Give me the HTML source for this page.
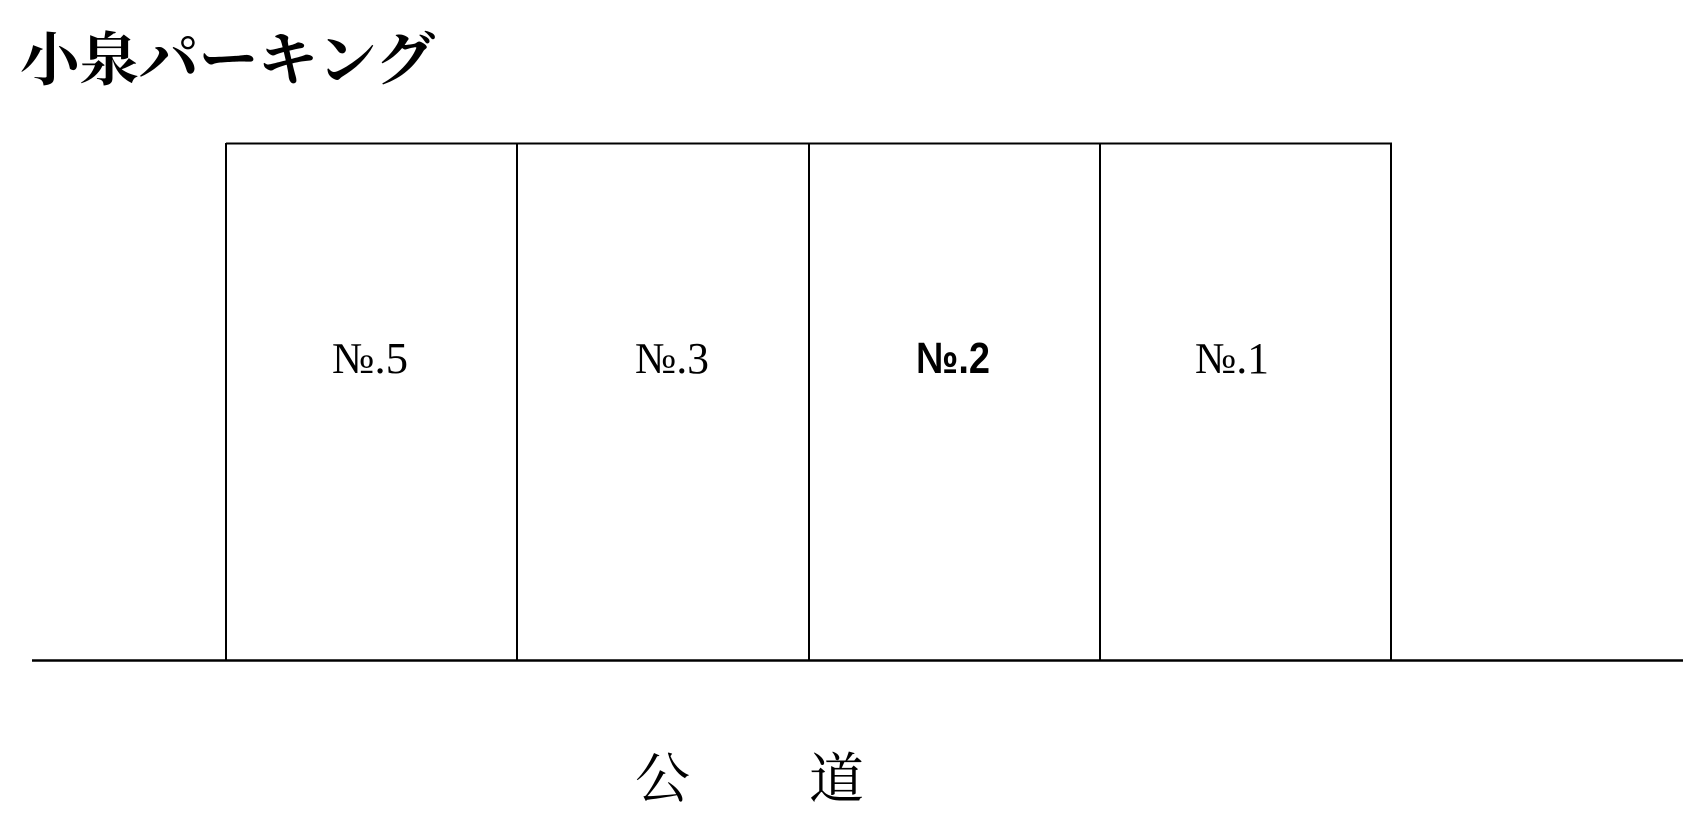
<!DOCTYPE html>
<html><head><meta charset="utf-8"><style>
html,body{margin:0;padding:0;background:#fff;}
svg{display:block}
</style></head><body>
<svg width="1703" height="839" viewBox="0 0 1703 839" xmlns="http://www.w3.org/2000/svg">
<text x="20" y="80" font-family="'Liberation Serif','Noto Serif CJK SC',serif" font-weight="bold" font-size="58" textLength="415" lengthAdjust="spacingAndGlyphs">小泉パーキング</text>
<g stroke="#000" stroke-width="2" fill="none">
<line x1="226" y1="143.5" x2="1392" y2="143.5"/>
<line x1="226" y1="143" x2="226" y2="660"/>
<line x1="517" y1="143" x2="517" y2="660"/>
<line x1="809" y1="143" x2="809" y2="660"/>
<line x1="1100" y1="143" x2="1100" y2="660"/>
<line x1="1391" y1="143" x2="1391" y2="660"/>
<line x1="32" y1="660.5" x2="1683" y2="660.5" stroke-width="2.5"/>
</g>
<g font-family="'Liberation Serif','Noto Serif CJK JP',serif" font-size="44">
<text x="332" y="373" textLength="76" lengthAdjust="spacingAndGlyphs">№.5</text>
<text x="635" y="373" textLength="74" lengthAdjust="spacingAndGlyphs">№.3</text>
<text x="916" y="373" textLength="74" lengthAdjust="spacingAndGlyphs" font-family="'Liberation Sans','Noto Sans CJK JP',sans-serif" font-weight="bold">№.2</text>
<text x="1195" y="373" textLength="74" lengthAdjust="spacingAndGlyphs">№.1</text>
</g>
<g font-family="'Liberation Serif','Noto Serif CJK SC',serif" font-size="55">
<text x="635" y="798">公</text>
<text x="809" y="798">道</text>
</g>
</svg>
</body></html>
